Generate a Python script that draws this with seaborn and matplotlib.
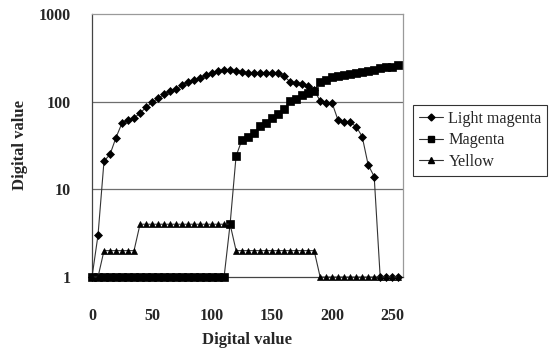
import numpy as np
import pandas as pd
import matplotlib
matplotlib.use("Agg")
import matplotlib.pyplot as plt
import seaborn as sns
from matplotlib.ticker import FixedLocator, FixedFormatter, NullLocator
from matplotlib.lines import Line2D

x_values = list(range(0, 256, 5))

light_magenta = [1, 3.0, 21, 25, 39, 57, 61, 65, 74, 86,
                 98, 109, 121, 133, 138, 155, 168, 177, 185, 200,
                 214, 224, 229, 229, 225, 219, 214, 214, 214, 214,
                 210, 210, 195, 168, 162, 157, 151, 135, 102, 97,
                 96, 61, 58, 58, 52, 40, 19, 14, 1, 1,
                 1, 1]

magenta = [1] * 23 + [4, 24, 37, 40, 44, 53, 57, 65, 73, 82,
                      103, 106, 119, 124, 133, 169, 177, 190, 196, 201,
                      207, 210, 216, 224, 229, 244, 246, 250, 262]

yellow = [1, 1] + [2] * 6 + [4] * 16 + [2] * 14 + [1] * 14

series_names = ["Light magenta", "Magenta", "Yellow"]
series_markers = {"Light magenta": "D", "Magenta": "s", "Yellow": "^"}
series_msize = {"Light magenta": 4.4, "Magenta": 5.5, "Yellow": 5.0}

x_ticks = [0, 25, 50, 75, 100, 125, 150, 175, 200, 225, 250]
x_labels = ["0", "", "50", "", "100", "", "150", "", "200", "", "250"]
y_ticks = [1, 10, 100, 1000]
y_labels = ["1", "10", "100", "1000"]

df = pd.DataFrame({
    "x": x_values * 3,
    "value": light_magenta + magenta + yellow,
    "series": sum([[n] * len(x_values) for n in series_names], []),
})

sns.set_theme(style="white")
plt.rcParams["font.family"] = ["Liberation Serif", "DejaVu Serif"]

fig = plt.figure(figsize=(5.55, 3.54), dpi=100)
ax = fig.add_axes([92 / 555, 1 - 277 / 354, (403 - 92) / 555, (277 - 14) / 354])

for name in series_names:
    sub = df[df["series"] == name]
    sns.lineplot(data=sub, x="x", y="value", ax=ax, color="#333333",
                 linewidth=0.8, marker=series_markers[name],
                 markersize=series_msize[name], markerfacecolor="black",
                 markeredgecolor="black", markeredgewidth=0.5,
                 clip_on=False, zorder=3, legend=False)

ax.set_yscale("log")
ax.set_ylim(1, 1000)
ax.set_xlim(0, 259)
ax.yaxis.set_major_locator(FixedLocator(y_ticks))
ax.yaxis.set_major_formatter(FixedFormatter(y_labels))
ax.yaxis.set_minor_locator(NullLocator())
ax.xaxis.set_major_locator(FixedLocator(x_ticks))
ax.xaxis.set_major_formatter(FixedFormatter(x_labels))

for yv in [10, 100]:
    ax.axhline(yv, color="#6e6e6e", linewidth=0.9, zorder=1)

for s in ["left", "bottom"]:
    ax.spines[s].set_color("#444444")
    ax.spines[s].set_linewidth(0.9)
for s in ["top", "right"]:
    ax.spines[s].set_color("#9a9a9a")
    ax.spines[s].set_linewidth(0.9)

ax.tick_params(axis="x", direction="in", length=4, width=0.8, color="#444444",
               pad=22, labelsize=11.5)
ax.tick_params(axis="y", length=0, pad=15, labelsize=11.5)
for lab in ax.get_xticklabels() + ax.get_yticklabels():
    lab.set_fontweight("bold")

ax.set_xlabel("")
ax.set_ylabel("")
fig.text(247 / 555, 1 - 340 / 354, "Digital value", ha="center", va="center",
         fontsize=12, fontweight="bold")
fig.text(20 / 555, 1 - 145 / 354, "Digital value", ha="center", va="center",
         rotation=90, fontsize=12, fontweight="bold")

handles = [Line2D([0], [0], color="#333333", linewidth=0.8,
                  marker=series_markers[n], markersize=series_msize[n] * 0.8,
                  markerfacecolor="black", markeredgecolor="black")
           for n in series_names]
leg = fig.legend(handles, series_names, loc="upper left",
                 bbox_to_anchor=(413 / 555, 1 - 105 / 354),
                 frameon=True, fancybox=False, fontsize=11.6,
                 handlelength=1.5, handletextpad=0.35, labelspacing=0.35,
                 borderpad=0.35, borderaxespad=0)
leg.get_frame().set_edgecolor("black")
leg.get_frame().set_linewidth(0.8)

fig.savefig("out.png", dpi=100)
